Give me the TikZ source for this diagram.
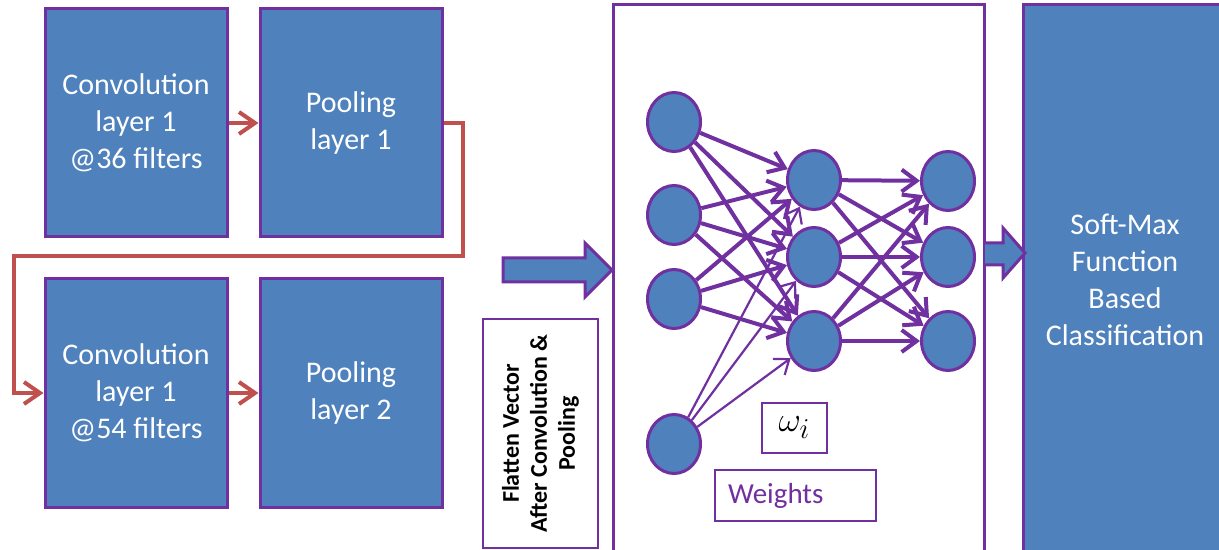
\documentclass[tikz,border=0pt]{standalone}
\usepackage{fontspec}
\setmainfont{Carlito}
\usetikzlibrary{arrows.meta,shapes.geometric}
\definecolor{boxblue}{RGB}{79,129,189}
\definecolor{edgepurple}{RGB}{112,48,160}
\definecolor{linkred}{RGB}{192,80,77}
\begin{document}
\begin{tikzpicture}[x=0.5pt,y=-0.5pt,
  layerbox/.style={draw=edgepurple, line width=1.5pt, fill=boxblue, text=white,
    minimum width=91pt, minimum height=114pt, inner sep=0pt, align=center,
    font=\fontsize{15}{18.5}\selectfont},
  neuron/.style={ellipse, draw=edgepurple, line width=1.5pt, fill=boxblue,
    minimum width=26.5pt, minimum height=29.5pt, inner sep=0pt},
  weight/.style={draw=edgepurple, line width=2pt,
    -{Straight Barb[length=7.5pt,width=11pt]}},
  thinweight/.style={draw=edgepurple, line width=1.1pt,
    -{Straight Barb[length=6.5pt,width=10pt]}},
  link/.style={draw=linkred, line width=2pt,
    -{Straight Barb[length=8pt,width=11pt]}},
  blockarrow/.style={draw=edgepurple, line width=1.5pt, fill=boxblue, line join=miter},
  labelbox/.style={draw=edgepurple, line width=1pt, fill=white, inner sep=0pt}
]
\useasboundingbox (0,0) rectangle (1219,550);
\clip (0,0) rectangle (1219,550);

% convolution / pooling stages
\node[layerbox] (conv1) at (136,123) {Convolution\\layer 1\\@36 filters};
\node[layerbox] (pool1) at (351,123) {Pooling\\layer 1};
\node[layerbox] (conv2) at (136,393) {Convolution\\layer 1\\@54 filters};
\node[layerbox] (pool2) at (351,393) {Pooling\\layer 2};

\draw[link] (conv1) -- (pool1);
\draw[link] (conv2) -- (pool2);
\coordinate (turnA) at (463,256);
\coordinate (turnB) at (14,393);
\draw[link] (pool1.east) -| (turnA) -| (turnB) -- (conv2.west);

% flatten label
\node[labelbox, rotate=90, minimum width=114.5pt, minimum height=57.5pt,
  align=center, font=\bfseries\fontsize{12}{14}\selectfont] (flat) at (540.5,433.5)
  {Flatten Vector\\After Convolution \&\\Pooling};

% fully connected part
\node[draw=edgepurple, line width=1.5pt, minimum width=185.5pt, minimum height=275pt,
  inner sep=0pt] (nn) at (798.5,280) {};
\node[layerbox, minimum width=102pt, minimum height=275pt] (softmax) at (1125,280)
  {Soft-Max\\Function\\Based\\Classification};

% block arrows
\draw[blockarrow] (503,258) -- (585,258) -- (585,243) -- (612,270) -- (585,297)
  -- (585,282) -- (503,282) -- cycle;
\draw[blockarrow] (985,243) -- (1003,243) -- (1003,228) -- (1025,253) -- (1003,278)
  -- (1003,265) -- (985,265);

% neurons
\node[neuron] (i1) at (674,122) {};
\node[neuron] (i2) at (674,215) {};
\node[neuron] (i3) at (674,299) {};
\node[neuron] (i4) at (674,444) {};
\node[neuron] (h1) at (814,180) {};
\node[neuron] (h2) at (814,257) {};
\node[neuron] (h3) at (814,341) {};
\node[neuron] (o1) at (948,181) {};
\node[neuron] (o2) at (948,257) {};
\node[neuron] (o3) at (948,341) {};

% weights
\foreach \a in {1,2,3}
  \foreach \b in {1,2,3}
    \draw[weight] (i\a) -- (h\b);
\foreach \b in {1,2,3}
  \draw[thinweight] (i4) -- (h\b);
\foreach \a in {1,2,3}
  \foreach \b in {1,2,3}
    \draw[weight] (h\a) -- (o\b);

% weight labels
\node[labelbox, minimum width=32.5pt, minimum height=25pt,
  font=\fontsize{19}{22}\selectfont] (omega) at (794.5,428) {$\omega_i$};
\node[labelbox, text=edgepurple, minimum height=25.5pt, text width=67.5pt,
  inner xsep=6.5pt, align=left, font=\fontsize{14.5}{17}\selectfont] (weights)
  at (795.5,495.5) {Weights};
\end{tikzpicture}
\end{document}
